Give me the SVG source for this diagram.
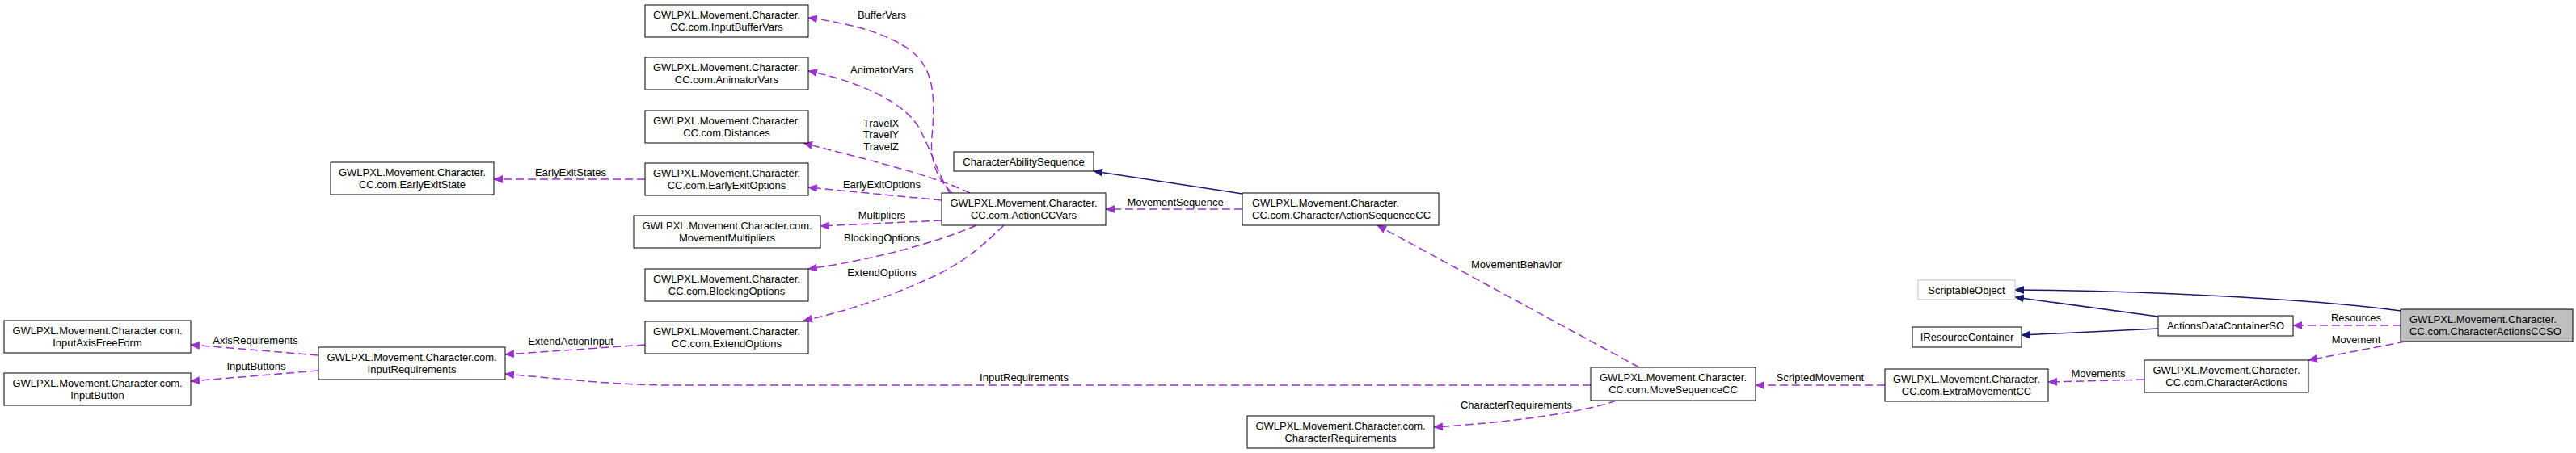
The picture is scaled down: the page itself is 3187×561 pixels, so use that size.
<svg xmlns="http://www.w3.org/2000/svg" width="3187" height="561" viewBox="0 0 3187 561">
<style>
  .n rect { fill: #ffffff; stroke: #000000; stroke-width: 1; }
  .n.ext rect { stroke: #bfbfbf; }
  .n.cur rect { fill: #bfbfbf; }
  text { font-family: "Liberation Sans", Arial, sans-serif; font-size: 13px; fill: #000000; }
  .c { text-anchor: middle; }
  .l { text-anchor: start; }
  .e { fill: none; stroke: #9a32cd; stroke-width: 1.5; stroke-dasharray: 10,5; marker-end: url(#ap); }
  .i { fill: none; stroke: #191970; stroke-width: 1.5; marker-end: url(#an); }
</style>
<defs>
  <marker id="ap" viewBox="0 0 12 10" refX="11" refY="5" markerWidth="12" markerHeight="10" orient="auto" markerUnits="userSpaceOnUse">
    <path d="M0,0 L12,5 L0,10 z" fill="#9a32cd" stroke="none"/>
  </marker>
  <marker id="an" viewBox="0 0 12 10" refX="11" refY="5" markerWidth="12" markerHeight="10" orient="auto" markerUnits="userSpaceOnUse">
    <path d="M0,0 L12,5 L0,10 z" fill="#191970" stroke="none"/>
  </marker>
</defs>
<rect x="0" y="0" width="3187" height="561" fill="#ffffff"/>

<g id="connectors">
  <path class="i" d="M1537,240 L1353,212"/>
  <path class="i" d="M2970,385 C2860,370 2650,360 2493,359"/>
  <path class="i" d="M2670,392 L2493,368"/>
  <path class="i" d="M2670,407 L2501,415"/>

  <path class="e" d="M798,222 L611,222"/>
  <text class="c" x="706" y="218">EarlyExitStates</text>

  <path class="e" d="M1178,239 C1160,222 1150,200 1153,170 C1156,130 1158,95 1135,70 C1110,45 1060,30 1000,22"/>
  <text class="c" x="1091" y="23">BufferVars</text>

  <path class="e" d="M1175,239 C1160,215 1150,180 1135,155 C1115,125 1060,100 1000,88"/>
  <text class="c" x="1091" y="91">AnimatorVars</text>

  <path class="e" d="M1200,239 C1150,215 1060,195 994,177"/>
  <text class="c" x="1090" y="157">TravelX</text>
  <text class="c" x="1090" y="171">TravelY</text>
  <text class="c" x="1090" y="186">TravelZ</text>

  <path class="e" d="M1165,248 L1000,232"/>
  <text class="c" x="1091" y="233">EarlyExitOptions</text>

  <path class="e" d="M1165,273 L1015,280"/>
  <text class="c" x="1091" y="271">Multipliers</text>

  <path class="e" d="M1208,279 C1160,300 1080,322 1000,333"/>
  <text class="c" x="1091" y="299">BlockingOptions</text>

  <path class="e" d="M1242,279 C1220,300 1200,320 1160,340 C1100,368 1050,385 994,397"/>
  <text class="c" x="1091" y="342">ExtendOptions</text>

  <path class="e" d="M1537,259 L1368,259"/>
  <text class="c" x="1454" y="255">MovementSequence</text>

  <path class="e" d="M2028,455 L1704,279"/>
  <text class="c" x="1876" y="332">MovementBehavior</text>

  <path class="e" d="M1968,477 L820,477 C760,476 700,470 625,463"/>
  <text class="c" x="1267" y="472">InputRequirements</text>

  <path class="e" d="M2332,477 L2172,477"/>
  <text class="c" x="2252" y="472">ScriptedMovement</text>

  <path class="e" d="M2000,496 C1960,510 1880,522 1774,529"/>
  <text class="c" x="1876" y="506">CharacterRequirements</text>

  <path class="e" d="M2970,403 L2837,403"/>
  <text class="c" x="2915" y="398">Resources</text>

  <path class="e" d="M2976,423 L2856,446"/>
  <text class="c" x="2915" y="425">Movement</text>

  <path class="e" d="M2653,470 L2534,473"/>
  <text class="c" x="2596" y="467">Movements</text>

  <path class="e" d="M394,440 L236,427"/>
  <text class="c" x="316" y="426">AxisRequirements</text>

  <path class="e" d="M394,459 L236,472"/>
  <text class="c" x="317" y="458">InputButtons</text>

  <path class="e" d="M798,427 L625,439"/>
  <text class="c" x="706" y="427">ExtendActionInput</text>
</g>

<g id="EarlyExitState" class="n"><rect x="409" y="201" width="202" height="40"/>
  <text class="c" x="510" y="218">GWLPXL.Movement.Character.</text><text class="c" x="510" y="233">CC.com.EarlyExitState</text></g>
<g id="InputBufferVars" class="n"><rect x="798" y="6" width="202" height="40"/>
  <text class="c" x="899" y="23">GWLPXL.Movement.Character.</text><text class="c" x="899" y="38">CC.com.InputBufferVars</text></g>
<g id="AnimatorVars" class="n"><rect x="798" y="71" width="202" height="40"/>
  <text class="c" x="899" y="88">GWLPXL.Movement.Character.</text><text class="c" x="899" y="103">CC.com.AnimatorVars</text></g>
<g id="Distances" class="n"><rect x="798" y="137" width="202" height="40"/>
  <text class="c" x="899" y="154">GWLPXL.Movement.Character.</text><text class="c" x="899" y="169">CC.com.Distances</text></g>
<g id="EarlyExitOptions" class="n"><rect x="798" y="202" width="202" height="40"/>
  <text class="c" x="899" y="219">GWLPXL.Movement.Character.</text><text class="c" x="899" y="234">CC.com.EarlyExitOptions</text></g>
<g id="MovementMultipliers" class="n"><rect x="784" y="267" width="231" height="40"/>
  <text class="c" x="899.5" y="284">GWLPXL.Movement.Character.com.</text><text class="c" x="899.5" y="299">MovementMultipliers</text></g>
<g id="BlockingOptions" class="n"><rect x="798" y="333" width="202" height="40"/>
  <text class="c" x="899" y="350">GWLPXL.Movement.Character.</text><text class="c" x="899" y="365">CC.com.BlockingOptions</text></g>
<g id="ExtendOptions" class="n"><rect x="798" y="398" width="202" height="40"/>
  <text class="c" x="899" y="415">GWLPXL.Movement.Character.</text><text class="c" x="899" y="430">CC.com.ExtendOptions</text></g>
<g id="InputAxisFreeForm" class="n"><rect x="5" y="397" width="231" height="40"/>
  <text class="c" x="120.5" y="414">GWLPXL.Movement.Character.com.</text><text class="c" x="120.5" y="429">InputAxisFreeForm</text></g>
<g id="InputButton" class="n"><rect x="5" y="462" width="231" height="40"/>
  <text class="c" x="120.5" y="479">GWLPXL.Movement.Character.com.</text><text class="c" x="120.5" y="494">InputButton</text></g>
<g id="InputRequirements" class="n"><rect x="394" y="430" width="231" height="40"/>
  <text class="c" x="509.5" y="447">GWLPXL.Movement.Character.com.</text><text class="c" x="509.5" y="462">InputRequirements</text></g>
<g id="ActionCCVars" class="n"><rect x="1165" y="239" width="203" height="40"/>
  <text class="c" x="1266.5" y="256">GWLPXL.Movement.Character.</text><text class="c" x="1266.5" y="271">CC.com.ActionCCVars</text></g>
<g id="CharacterAbilitySequence" class="n"><rect x="1180" y="188" width="173" height="24"/>
  <text class="c" x="1266.5" y="205">CharacterAbilitySequence</text></g>
<g id="CharacterActionSequenceCC" class="n"><rect x="1537" y="239" width="243" height="40"/>
  <text class="l" x="1549" y="256">GWLPXL.Movement.Character.</text><text class="l" x="1549" y="271">CC.com.CharacterActionSequenceCC</text></g>
<g id="MoveSequenceCC" class="n"><rect x="1968" y="455" width="204" height="41"/>
  <text class="c" x="2070" y="472">GWLPXL.Movement.Character.</text><text class="c" x="2070" y="487">CC.com.MoveSequenceCC</text></g>
<g id="CharacterRequirements" class="n"><rect x="1543" y="515" width="231" height="40"/>
  <text class="c" x="1658.5" y="532">GWLPXL.Movement.Character.com.</text><text class="c" x="1658.5" y="547">CharacterRequirements</text></g>
<g id="ExtraMovementCC" class="n"><rect x="2332" y="457" width="202" height="40"/>
  <text class="c" x="2433" y="474">GWLPXL.Movement.Character.</text><text class="c" x="2433" y="489">CC.com.ExtraMovementCC</text></g>
<g id="CharacterActions" class="n"><rect x="2653" y="446" width="203" height="40"/>
  <text class="c" x="2754.5" y="463">GWLPXL.Movement.Character.</text><text class="c" x="2754.5" y="478">CC.com.CharacterActions</text></g>
<g id="ScriptableObject" class="n ext"><rect x="2373" y="347" width="120" height="24"/>
  <text class="c" x="2433" y="364">ScriptableObject</text></g>
<g id="IResourceContainer" class="n"><rect x="2366" y="405" width="135" height="25"/>
  <text class="c" x="2433.5" y="422">IResourceContainer</text></g>
<g id="ActionsDataContainerSO" class="n"><rect x="2670" y="391" width="167" height="25"/>
  <text class="c" x="2753.5" y="408">ActionsDataContainerSO</text></g>
<g id="CharacterActionsCCSO" class="n cur"><rect x="2970" y="383" width="213" height="40"/>
  <text class="l" x="2981" y="400">GWLPXL.Movement.Character.</text><text class="l" x="2981" y="415">CC.com.CharacterActionsCCSO</text></g>
</svg>
